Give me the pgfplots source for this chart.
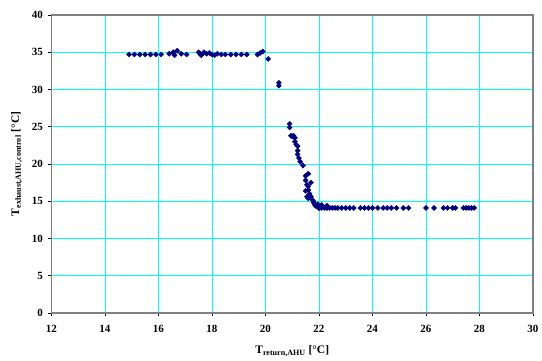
\documentclass[border=0pt]{standalone}
\usepackage{pgfplots}
\pgfplotsset{compat=1.18}
\usepackage{fontspec}
\setmainfont{Liberation Serif}
\definecolor{gridcyan}{RGB}{0,255,255}
\definecolor{navy}{RGB}{0,0,128}
\definecolor{framegrey}{RGB}{128,128,128}
\begin{document}
\begin{tikzpicture}
\begin{axis}[
  scale only axis,
  width=481.5pt, height=298pt,
  xmin=12, xmax=30, ymin=0, ymax=40,
  xtick={12,14,...,30}, ytick={0,5,...,40},
  grid=major,
  major grid style={gridcyan, line width=0.7pt},
  axis line style={framegrey, line width=1.1pt},
  tick align=outside,
  major tick length=3pt,
  tick style={black, line width=0.6pt},
  xtick pos=bottom, ytick pos=left,
  /pgf/number format/assume math mode=true,
  ticklabel style={font=\fontsize{11}{13}\selectfont\bfseries},
  xticklabel style={yshift=-6pt},
  yticklabel style={xshift=-2pt},
  xlabel={\bfseries T\textsubscript{return,AHU} [°C]},
  ylabel={\bfseries T\textsubscript{exhaust,AHU,control} [°C]},
  xlabel style={font=\fontsize{11.5}{13}\selectfont, yshift=-6pt},
  ylabel style={font=\fontsize{11.5}{13}\selectfont, yshift=3pt},
]
\addplot[only marks, mark=square*, mark size=1.8pt, mark options={fill=navy, draw=navy, rotate=45}] coordinates {
(14.9,34.7) (15.1,34.7) (15.3,34.7) (15.5,34.7) (15.7,34.7) (15.9,34.7) (16.1,34.7)
(16.4,34.8) (16.55,35.0) (16.6,34.6) (16.7,35.2) (16.85,34.8) (17.05,34.7)
(17.5,35.0) (17.55,34.8) (17.6,34.6) (17.7,35.0) (17.8,34.8) (17.9,34.9) (18.0,34.7)
(18.1,34.6) (18.2,34.8) (18.35,34.7) (18.5,34.7) (18.7,34.7) (18.9,34.7) (19.1,34.7) (19.3,34.7)
(19.7,34.7) (19.8,34.9) (19.9,35.1) (20.1,34.1)
(20.5,30.9) (20.5,30.5) (20.9,25.4) (20.9,24.9) (20.95,23.8) (21.0,23.7) (21.05,23.8)
(21.1,23.5) (21.1,23.0) (21.15,22.6) (21.2,22.4) (21.2,21.8) (21.2,21.3) (21.25,20.8)
(21.3,20.3) (21.4,19.8) (21.5,18.4) (21.5,17.8) (21.55,17.2) (21.6,18.7) (21.6,17.0)
(21.6,16.5) (21.65,16.0) (21.7,17.5) (21.7,15.6) (21.75,15.2) (21.8,15.0) (21.8,14.8)
(21.85,14.5) (21.9,14.3) (21.95,14.6) (22.0,14.1) (21.5,16.4) (21.55,15.6) (21.6,15.4)
(22.0,14.1) (22.1,14.1) (22.2,14.1) (22.3,14.1) (22.4,14.1) (22.5,14.1) (22.6,14.1)
(22.7,14.1) (22.85,14.1) (23.0,14.1) (23.15,14.1) (23.3,14.1) (23.55,14.1) (23.7,14.1)
(23.85,14.1) (24.0,14.1) (24.2,14.1) (24.4,14.1) (24.55,14.1) (24.7,14.1) (24.9,14.1)
(25.15,14.1) (25.35,14.1) (26.0,14.1) (26.3,14.1) (26.65,14.1) (26.8,14.1) (27.0,14.1)
(27.1,14.1) (27.4,14.1) (27.5,14.1) (27.6,14.1) (27.7,14.1) (27.8,14.1)
(22.1,14.5) (22.3,14.4)
};
\end{axis}
\path (-51.5pt,-48pt) rectangle (490.5pt,313pt);
\end{tikzpicture}
\end{document}
